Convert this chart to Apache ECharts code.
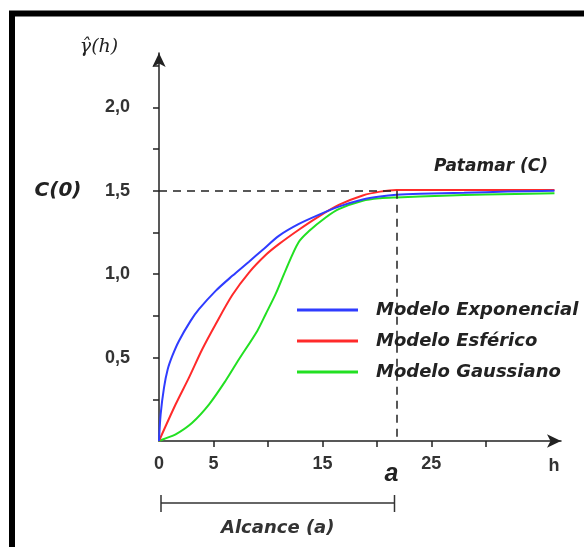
<!DOCTYPE html>
<html><head><meta charset="utf-8">
<script src="https://cdn.jsdelivr.net/npm/echarts@6/dist/echarts.min.js"></script>
<style>html,body{margin:0;padding:0;background:#fff}#c{width:584px;height:547px}</style>
</head><body><div id="c"></div>
<script>
const seriesNames = ['Modelo Exponencial', 'Modelo Esférico', 'Modelo Gaussiano'];
const seriesColors = ['#2f3cff', '#ff2a2a', '#22e022'];
const hExp = [0, 0.15, 0.46, 0.8, 1.22, 1.83, 2.9, 3.67, 5.2, 6.73, 8.26, 9.5, 11.0, 12.8, 14.7, 16.5, 18.7, 20.3, 21.8, 24, 28, 32, 36.3];
const yExp = [0, 0.16, 0.32, 0.43, 0.51, 0.60, 0.72, 0.79, 0.90, 0.99, 1.075, 1.145, 1.23, 1.30, 1.357, 1.405, 1.448, 1.466, 1.476, 1.482, 1.488, 1.495, 1.50];
const hSph = [0, 1.53, 2.75, 3.97, 5.2, 6.73, 8.26, 9.79, 11.0, 12.8, 14.4, 16.5, 18.7, 20.3, 21.8, 26, 30, 36.3];
const ySph = [0, 0.22, 0.38, 0.55, 0.70, 0.875, 1.01, 1.115, 1.18, 1.265, 1.335, 1.415, 1.472, 1.495, 1.505, 1.505, 1.505, 1.505];
const hGau = [0, 0.6, 1.53, 3.05, 4.6, 6.1, 7.34, 9.02, 9.79, 10.7, 11.6, 12.8, 13.8, 15.3, 16.5, 18.7, 20.3, 21.8, 26, 30, 36.3];
const yGau = [0, 0.016, 0.04, 0.11, 0.22, 0.36, 0.49, 0.66, 0.76, 0.88, 1.02, 1.19, 1.26, 1.34, 1.39, 1.44, 1.455, 1.46, 1.47, 1.478, 1.485];
const sill = 1.5;        // Patamar (C)
const rangeA = 21.8;     // Alcance (a)
const xTicks = [5, 10, 15, 20, 25, 30];
const xLabels = [0, 5, 15, 25];
const yTicks = [0.25, 0.5, 0.75, 1.0, 1.25, 1.5, 1.75, 2.0, 2.25];
const yLabels = [0.5, 1.0, 1.5, 2.0];
const xMax = 36.9, yMax = 2.326;

const pairs = (h, y) => h.map((v, i) => [v, y[i]]);
const dataSets = [pairs(hExp, yExp), pairs(hSph, ySph), pairs(hGau, yGau)];

const chart = echarts.init(document.getElementById('c'));
const axisCol = '#222';
const sans = 'Liberation Sans, Arial, sans-serif';
const dv = 'DejaVu Sans, sans-serif';

const series = seriesNames.map((n, i) => ({
  name: n, type: 'line', data: dataSets[i], smooth: 0.3,
  showSymbol: false, symbol: 'none', lineStyle: { color: seriesColors[i], width: 2 },
  itemStyle: { color: seriesColors[i] }, z: 3 - i
}));
series[1].markLine = {
  silent: true, symbol: 'none', animation: false,
  label: { show: false },
  lineStyle: { color: '#222', type: [8, 6], width: 1.5 },
  data: [
    [{ coord: [0, sill] }, { coord: [rangeA, sill] }],
    [{ coord: [rangeA, sill] }, { coord: [rangeA, 0] }]
  ]
};

chart.setOption({
  animation: false,
  backgroundColor: '#fff',
  grid: { left: 159, right: 23, top: 53, bottom: 106 },
  xAxis: {
    type: 'value', min: 0, max: xMax,
    splitLine: { show: false },
    axisLine: { lineStyle: { color: axisCol, width: 1.5 }, symbol: ['none', 'arrow'], symbolSize: [10, 14] },
    axisTick: { customValues: xTicks, length: 6, lineStyle: { color: axisCol, width: 1.5 } },
    axisLabel: { customValues: xLabels, margin: 14, fontFamily: sans, fontWeight: 'bold', fontSize: 18, color: '#333',
      formatter: v => String(v) }
  },
  yAxis: {
    type: 'value', min: 0, max: yMax,
    splitLine: { show: false },
    axisLine: { lineStyle: { color: axisCol, width: 1.5 }, symbol: ['none', 'arrow'], symbolSize: [10, 14] },
    axisTick: { customValues: yTicks, length: 6, lineStyle: { color: axisCol, width: 1.5 } },
    axisLabel: { customValues: yLabels, margin: 29, fontFamily: sans, fontWeight: 'bold', fontSize: 18, color: '#333',
      formatter: v => v.toFixed(1).replace('.', ',') }
  },
  legend: {
    orient: 'vertical', left: 287, top: 285,
    data: seriesNames.map((n, i) => ({ name: n, icon: 'rect', itemStyle: { color: seriesColors[i] } })),
    itemWidth: 61, itemHeight: 3, itemGap: 11,
    padding: [15, 10, 13, 10], backgroundColor: '#fff',
    textStyle: { fontFamily: dv, fontStyle: 'italic', fontWeight: 'bold', fontSize: 18, color: '#222',
      lineHeight: 20, padding: [0, 0, 0, 13] }
  },
  series
});

const p0 = chart.convertToPixel({ gridIndex: 0 }, [0, 0]);
const pA = chart.convertToPixel({ gridIndex: 0 }, [rangeA, 0]);
const pS = chart.convertToPixel({ gridIndex: 0 }, [0, sill]);
const pMax = chart.convertToPixel({ gridIndex: 0 }, [xMax, yMax]);
const bracketY = 503;

chart.setOption({
  graphic: [
    { type: 'rect', shape: { x: 12, y: 13.5, width: 700, height: 700 }, style: { fill: 'none', stroke: '#000', lineWidth: 6 }, silent: true },
    { type: 'text', x: 99, y: 47, style: { text: 'γ̂(h)', font: 'italic 19px "DejaVu Serif", serif', fill: '#222', textAlign: 'center', textVerticalAlign: 'middle' } },
    { type: 'text', x: 58, y: pS[1], style: { text: 'C(0)', font: 'italic bold 20px "DejaVu Sans", sans-serif', fill: '#222', textAlign: 'center', textVerticalAlign: 'middle' } },
    { type: 'text', x: 491, y: 167, style: { text: 'Patamar (C)', font: 'italic bold 17px "DejaVu Sans", sans-serif', fill: '#222', textAlign: 'center', textVerticalAlign: 'middle' } },
    { type: 'text', x: pA[0] - 5, y: 474, style: { text: 'a', font: 'italic bold 25px "Liberation Sans", sans-serif', fill: '#222', textAlign: 'center', textVerticalAlign: 'middle' } },
    { type: 'text', x: pMax[0] - 7, y: p0[1] + 25, style: { text: 'h', font: 'bold 18px "Liberation Sans", sans-serif', fill: '#333', textAlign: 'center', textVerticalAlign: 'middle' } },
    { type: 'line', shape: { x1: p0[0] + 2, y1: bracketY, x2: pA[0] - 2, y2: bracketY }, style: { stroke: '#333', lineWidth: 1.5 } },
    { type: 'line', shape: { x1: p0[0] + 2, y1: bracketY - 8, x2: p0[0] + 2, y2: bracketY + 9 }, style: { stroke: '#333', lineWidth: 1.5 } },
    { type: 'line', shape: { x1: pA[0] - 2, y1: bracketY - 8, x2: pA[0] - 2, y2: bracketY + 9 }, style: { stroke: '#333', lineWidth: 1.5 } },
    { type: 'text', x: (p0[0] + pA[0]) / 2, y: 528, style: { text: 'Alcance (a)', font: 'italic bold 18px "DejaVu Sans", sans-serif', fill: '#333', textAlign: 'center', textVerticalAlign: 'middle' } }
  ]
});
</script></body></html>
